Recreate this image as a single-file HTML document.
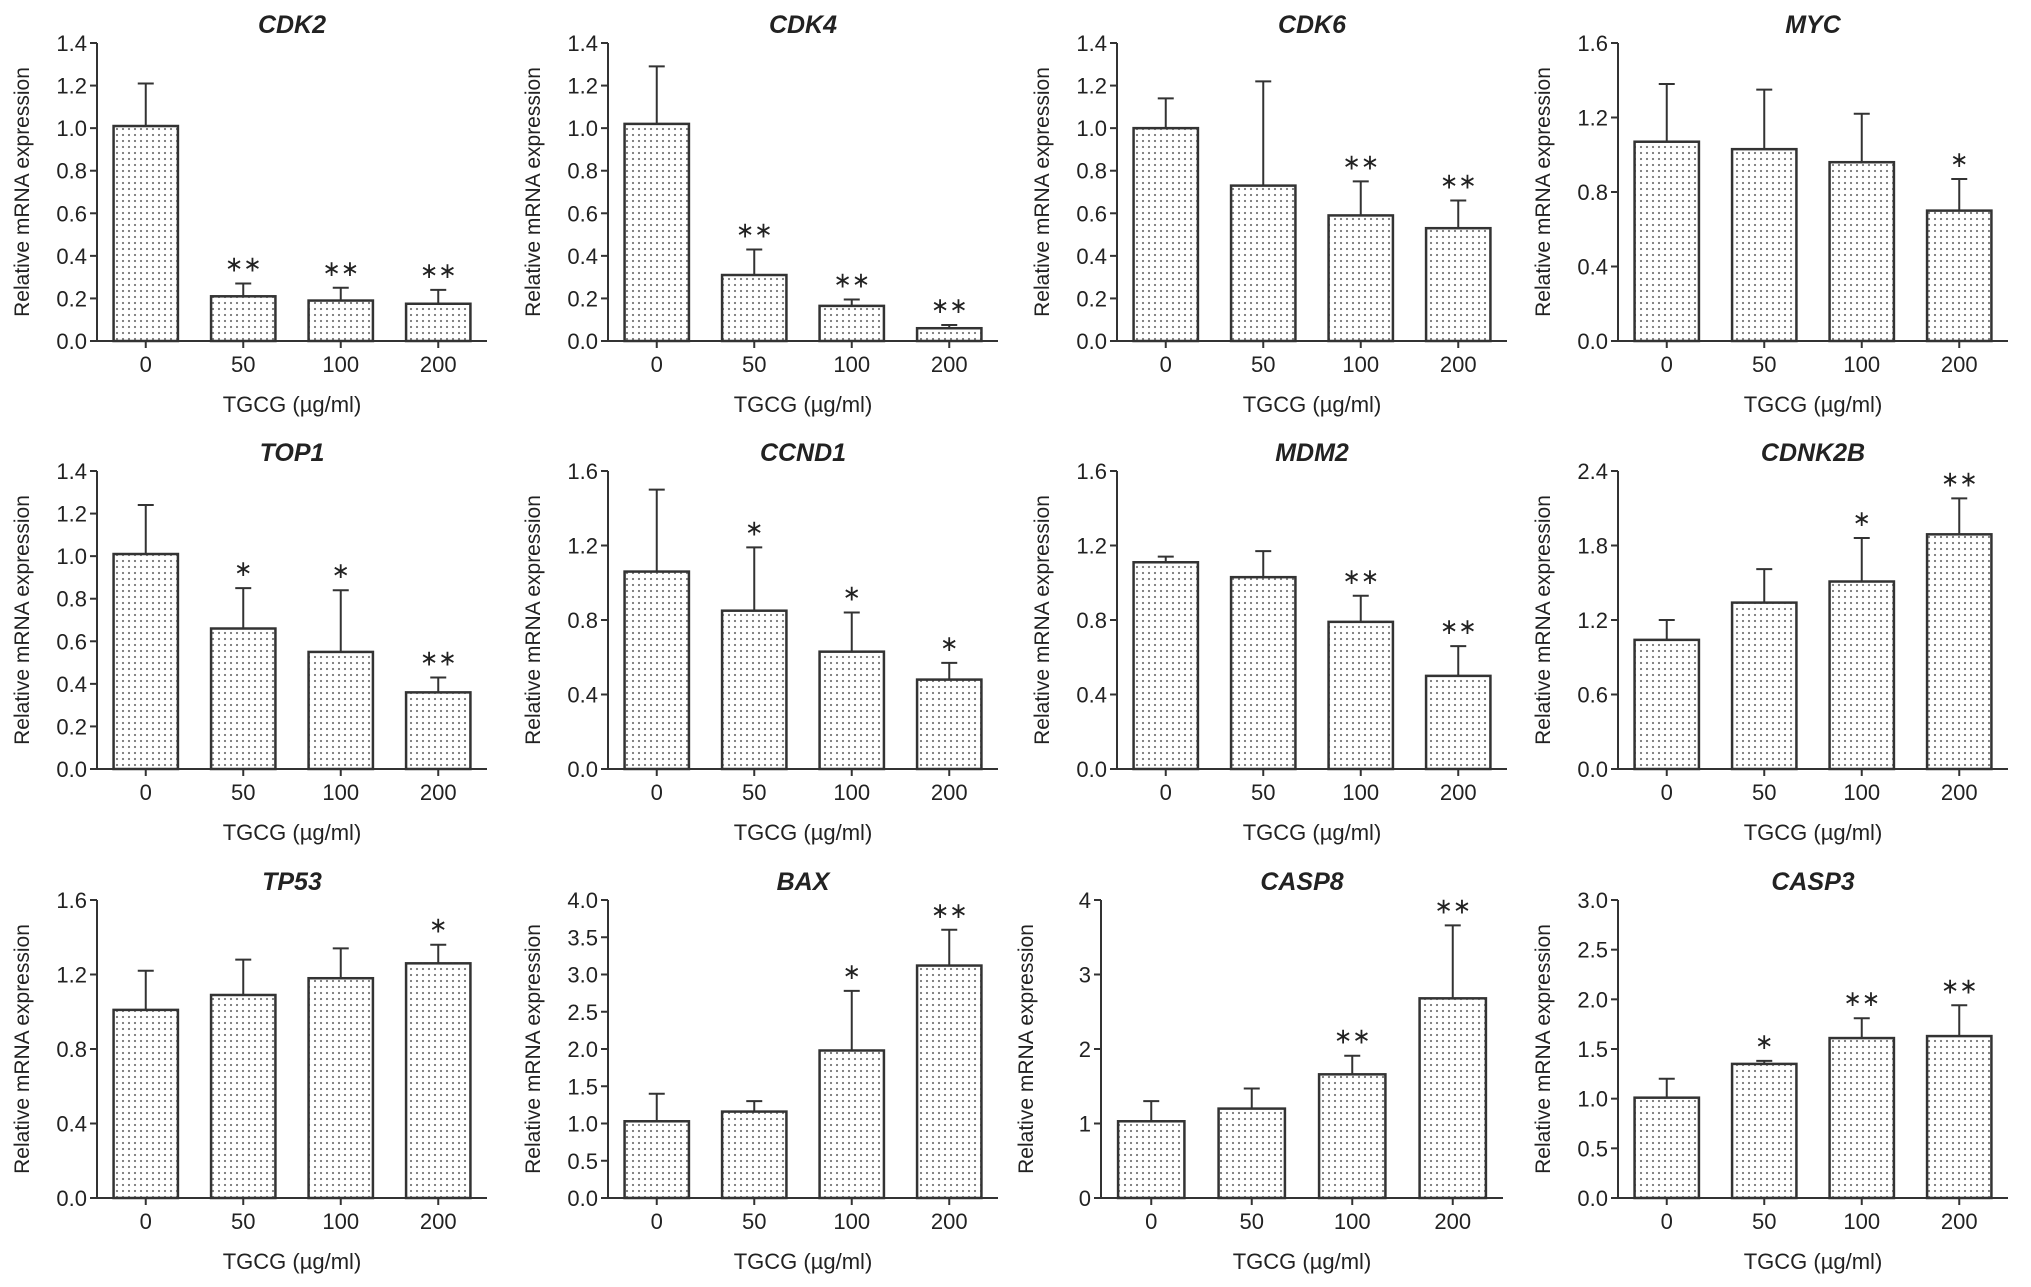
<!DOCTYPE html>
<html><head><meta charset="utf-8"><style>
html,body{margin:0;padding:0;background:#fff;}
svg{display:block;font-family:"Liberation Sans",Arial,sans-serif;}
</style></head><body>
<svg id="fig" width="2031" height="1287" viewBox="0 0 2031 1287" xmlns="http://www.w3.org/2000/svg">
<defs>
<pattern id="dots" width="6" height="6" patternUnits="userSpaceOnUse">
<rect width="6" height="6" fill="#fff"/>
<circle cx="3" cy="3" r="1.1" fill="#777"/>
</pattern>
</defs>
</svg>
<script>
const categories = ["0","50","100","200"];
const genes = ["CDK2","CDK4","CDK6","MYC","TOP1","CCND1","MDM2","CDNK2B","TP53","BAX","CASP8","CASP3"];
const means = [
 [1.01,0.21,0.19,0.175],
 [1.02,0.31,0.165,0.06],
 [1.0,0.73,0.59,0.53],
 [1.07,1.03,0.96,0.70],
 [1.01,0.66,0.55,0.36],
 [1.06,0.85,0.63,0.48],
 [1.11,1.03,0.79,0.50],
 [1.04,1.34,1.51,1.89],
 [1.01,1.09,1.18,1.26],
 [1.03,1.16,1.98,3.12],
 [1.03,1.20,1.66,2.68],
 [1.01,1.35,1.61,1.63]
];
const errors = [
 [0.20,0.06,0.06,0.065],
 [0.27,0.12,0.03,0.015],
 [0.14,0.49,0.16,0.13],
 [0.31,0.32,0.26,0.17],
 [0.23,0.19,0.29,0.07],
 [0.44,0.34,0.21,0.09],
 [0.03,0.14,0.14,0.16],
 [0.16,0.27,0.35,0.29],
 [0.21,0.19,0.16,0.10],
 [0.37,0.14,0.80,0.48],
 [0.27,0.27,0.25,0.98],
 [0.19,0.03,0.20,0.31]
];
const stars = [
 ["","**","**","**"],["","**","**","**"],["","","**","**"],["","","","*"],
 ["","*","*","**"],["","*","*","*"],["","","**","**"],["","","*","**"],
 ["","","","*"],["","","*","**"],["","","**","**"],["","*","**","**"]
];
const yMax = [1.4,1.4,1.4,1.6,1.4,1.6,1.6,2.4,1.6,4.0,4,3.0];
const yStep = [0.2,0.2,0.2,0.4,0.2,0.4,0.4,0.6,0.4,0.5,1,0.5];
const yDecimals = [1,1,1,1,1,1,1,1,1,1,0,1];

const NS="http://www.w3.org/2000/svg";
const svg=document.getElementById('fig');
function mk(tag,attrs,parent){const e=document.createElementNS(NS,tag);for(const k in attrs)e.setAttribute(k,attrs[k]);(parent||svg).appendChild(e);return e;}

const colX=[97,608,1117,1618];
const rowTop=[43,471,900];
const rowZero=[341,769,1198];
const plotW=390;

genes.forEach((g,i)=>{
  const r=Math.floor(i/4), c=i%4;
  let ax=colX[c], w=plotW;
  if(g==="CASP8"){ax=1101;w=402;}
  const top=rowTop[r], zero=rowZero[r], h=zero-top;
  const grp=mk('g',{});
  
  
  const y=v=>zero-v/yMax[i]*h;
  const xc=k=>ax+w*(0.125+0.25*k);
  const t=mk('text',{x:ax+w*0.5,y:top-10,'text-anchor':'middle','font-size':25,'font-weight':'bold','font-style':'italic',fill:'#222'},grp);
  t.textContent=g;
  
  
  categories.forEach((cat,k)=>{
    const bw=w*0.165, v=means[i][k], e=errors[i][k];
    const bx=xc(k)-bw/2, by=y(v);
    const eb=mk('line',{x1:xc(k),x2:xc(k),y1:by,y2:y(v+e),stroke:'#333','stroke-width':2},grp);
    
    
    const cap=mk('line',{x1:xc(k)-8,x2:xc(k)+8,y1:y(v+e),y2:y(v+e),stroke:'#333','stroke-width':2},grp);
    
    
    const b=mk('rect',{x:bx,y:by,width:bw,height:zero-by,fill:'url(#dots)',stroke:'#333','stroke-width':2.5},grp);
    
    
    if(stars[i][k]){
      const s=mk('text',{x:xc(k),y:y(v+e)-12,'text-anchor':'middle','font-size':22,fill:'#222'},grp);
      s.textContent=stars[i][k].replace(/\*/g,'\u2217');
      
      
    }
    const tk=mk('line',{x1:xc(k),x2:xc(k),y1:zero,y2:zero+7,stroke:'#333','stroke-width':2},grp);
    
    
    const tl=mk('text',{x:xc(k),y:zero+31,'text-anchor':'middle','font-size':22,fill:'#222'},grp);
    tl.textContent=cat;
    
    
  });
  const ya=mk('line',{x1:ax,x2:ax,y1:top,y2:zero,stroke:'#333','stroke-width':2},grp);
  
  
  const xa=mk('line',{x1:ax-7,x2:ax+w,y1:zero,y2:zero,stroke:'#333','stroke-width':2},grp);
  
  
  const n=Math.round(yMax[i]/yStep[i]);
  for(let j=0;j<=n;j++){
    const v=j*yStep[i];
    const tk=mk('line',{x1:ax-7,x2:ax,y1:y(v),y2:y(v),stroke:'#333','stroke-width':2},grp);
    
    
    const tl=mk('text',{x:ax-10,y:y(v)+8,'text-anchor':'end','font-size':22,fill:'#222'},grp);
    tl.textContent=v.toFixed(yDecimals[i]);
    
    
  }
  const yt=mk('text',{x:0,y:0,'text-anchor':'middle','font-size':21,fill:'#222',transform:`translate(${ax-68},${(top+zero)/2}) rotate(-90)`},grp);
  yt.textContent='Relative mRNA expression';
  
  
  const xt=mk('text',{x:ax+w*0.5,y:zero+71,'text-anchor':'middle','font-size':22,fill:'#222'},grp);
  xt.textContent='TGCG (\u00b5g/ml)';
  
  
});
</script>
</body></html>
